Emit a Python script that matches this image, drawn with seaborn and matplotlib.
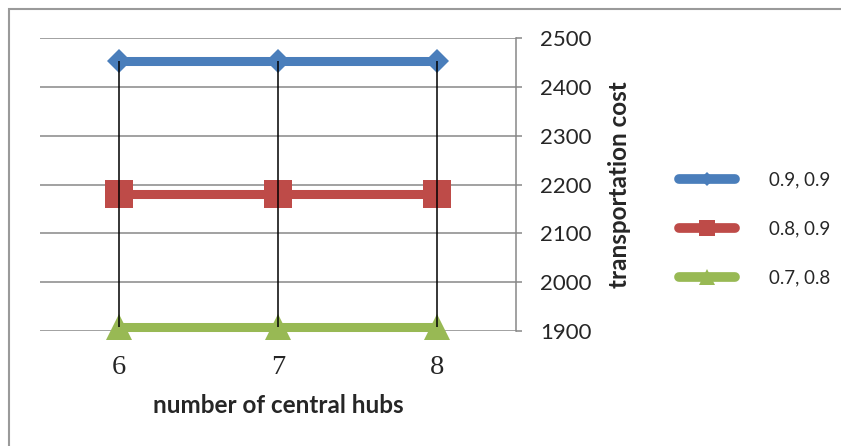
import numpy as np
import pandas as pd
import matplotlib
matplotlib.use("Agg")
import matplotlib.pyplot as plt
from matplotlib.lines import Line2D
from matplotlib.patches import Rectangle
import seaborn as sns

# data
hubs = [6, 7, 8]
series_labels = ["0.9, 0.9", "0.8, 0.9", "0.7, 0.8"]
cost_09_09 = [2453, 2453, 2453]
cost_08_09 = [2181, 2181, 2181]
cost_07_08 = [1908, 1908, 1908]
y_ticks = [1900, 2000, 2100, 2200, 2300, 2400, 2500]

colors = ["#4A7EBB", "#BE4B48", "#98B954"]
markers = ["D", "s", "^"]
marker_sizes = [12.5, 20, 19]
legend_marker_sizes = [7.5, 12, 12]

sns.set_style("white")
plt.rcParams["font.family"] = ["Lato", "DejaVu Sans"]

df = pd.DataFrame({
    "hubs": hubs * 3,
    "cost": cost_09_09 + cost_08_09 + cost_07_08,
    "series": [s for s in series_labels for _ in hubs],
})

fig = plt.figure(figsize=(8.41, 4.46), dpi=100)
ax = fig.add_axes([40 / 841, 115 / 446, 476 / 841, 293 / 446])

for lab, col, mk, ms in zip(series_labels, colors, markers, marker_sizes):
    sns.lineplot(data=df[df["series"] == lab], x="hubs", y="cost", color=col,
                 marker=mk, markersize=ms, markeredgewidth=0, linewidth=6.5,
                 clip_on=False, zorder=3, ax=ax, legend=False)

# high-low lines
costs = np.array([cost_09_09, cost_08_09, cost_07_08])
ax.vlines(hubs, costs.min(axis=0), costs.max(axis=0), color="black",
          linewidth=1.1, zorder=5)

ax.set_xlim(5.5, 8.5)
ax.set_ylim(1900, 2500)
ax.set_yticks(y_ticks)
ax.set_xticks(hubs)
ax.set_xticklabels([str(h) for h in hubs], fontfamily="Liberation Serif", fontsize=20.5)

ax.grid(axis="y", color="#878787", linewidth=1.1, zorder=0)
ax.grid(axis="x", visible=False)
for side in ["left", "top", "bottom"]:
    ax.spines[side].set_visible(False)
ax.spines["right"].set_color("#878787")
ax.spines["right"].set_linewidth(1.1)

ax.yaxis.tick_right()
ax.yaxis.set_label_position("right")
ax.tick_params(axis="y", which="both", right=True, left=False, direction="out",
               length=4.5, width=1.1, color="#878787", pad=13, labelsize=16)
ax.tick_params(axis="x", length=0, pad=17)

ax.set_xlabel("number of central hubs", fontsize=17.5, fontweight="bold")
ax.xaxis.set_label_coords(0.5, -0.215)
ax.set_ylabel("transportation cost", fontsize=17.5, fontweight="bold", rotation=90)
ax.yaxis.set_label_coords(1.194, 0.5)

handles = [Line2D([0], [0], color=c, marker=m, markersize=s, markeredgewidth=0,
                  linewidth=7, solid_capstyle="round")
           for c, m, s in zip(colors, markers, legend_marker_sizes)]
fig.legend(handles, series_labels, loc="center left", bbox_to_anchor=(679 / 841, 1 - 229 / 446),
           frameon=False, fontsize=13.5, handlelength=3.0, handletextpad=1.8,
           labelspacing=1.7, borderpad=0, borderaxespad=0, numpoints=1)

fig.patches.append(Rectangle((9 / 841, -0.5), 2, 1.5 - 9 / 446, transform=fig.transFigure,
                             fill=False, edgecolor="#9a9a9a", linewidth=1.5))

fig.savefig("out.png", dpi=100)
